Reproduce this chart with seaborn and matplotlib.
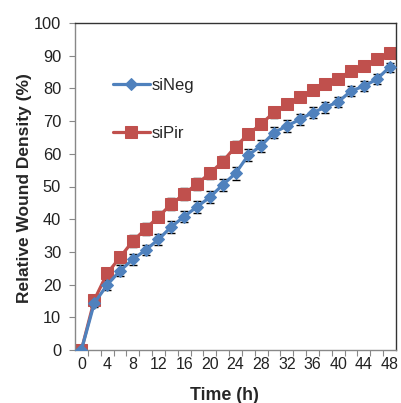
import numpy as np
import pandas as pd
import matplotlib
matplotlib.use("Agg")
import matplotlib.pyplot as plt
import seaborn as sns
from matplotlib.ticker import FixedLocator

time_h = [0, 2, 4, 6, 8, 10, 12, 14, 16, 18, 20, 22, 24, 26, 28, 30, 32, 34, 36, 38, 40, 42, 44, 46, 48]
si_neg = [0, 14.3, 19.9, 24.2, 27.7, 30.6, 33.8, 37.7, 40.8, 43.8, 46.7, 50.5, 54.0, 59.6, 62.5,
          66.5, 68.5, 70.5, 72.6, 74.2, 75.9, 79.2, 80.7, 82.8, 86.5]
si_pir = [0, 15.3, 23.4, 28.3, 33.3, 37.0, 40.8, 44.6, 47.7, 50.8, 54.0, 57.6, 62.2, 66.0, 69.1,
          72.7, 75.1, 77.3, 79.5, 81.3, 82.9, 85.4, 86.9, 88.9, 90.9]
err_neg = [0, 1.2, 1.5, 1.7, 1.6, 1.6, 1.7, 1.8, 1.8, 1.8, 1.8, 1.9, 1.9, 1.8, 1.8,
           1.7, 1.7, 1.7, 1.6, 1.6, 1.6, 1.6, 1.5, 1.5, 1.4]
err_pir = [0, 1.2, 1.6, 1.8, 1.8, 1.8, 1.8, 1.8, 1.8, 1.8, 1.8, 1.7, 1.7, 1.6, 1.6,
           1.6, 1.5, 1.5, 1.5, 1.4, 1.4, 1.4, 1.3, 1.3, 1.2]
series_names = ["siNeg", "siPir"]
x_tick_labels = [str(v) for v in range(0, 49, 4)]
y_ticks = list(range(0, 101, 10))

blue = "#4F81BD"
red = "#C0504D"

sns.set_style("white")
plt.rcParams["font.family"] = ["Liberation Sans", "DejaVu Sans"]

df = pd.DataFrame({
    "time": time_h * 2,
    "value": si_neg + si_pir,
    "group": [series_names[0]] * len(time_h) + [series_names[1]] * len(time_h),
})

fig = plt.figure(figsize=(4.01, 4.03), dpi=100)
ax = fig.add_axes([75 / 401, 1 - 350 / 403, 321 / 401, 327 / 403])

# error bars (drawn beneath markers)
ax.errorbar(time_h, si_neg, yerr=err_neg, fmt="none", ecolor="black", elinewidth=0.8,
            capsize=3.2, capthick=1.0, zorder=1)
ax.errorbar(time_h, si_pir, yerr=err_pir, fmt="none", ecolor="black", elinewidth=0.8,
            capsize=3.2, capthick=1.0, zorder=1)

sns.lineplot(data=df[df.group == "siNeg"], x="time", y="value", ax=ax, color=blue,
             marker="D", markersize=6.5, markeredgecolor=blue, linewidth=2.3,
             label="siNeg", zorder=3)
sns.lineplot(data=df[df.group == "siPir"], x="time", y="value", ax=ax, color=red,
             marker="s", markersize=8.5, markeredgecolor=red, linewidth=2.3,
             label="siPir", zorder=2)

ax.set_xlim(-1, 49)
ax.set_ylim(0, 100)
ax.set_xticks(list(range(0, 49, 4)))
ax.set_xticklabels(x_tick_labels)
ax.xaxis.set_minor_locator(FixedLocator(list(range(1, 48, 2))))
ax.set_yticks(y_ticks)
ax.set_yticklabels([str(v) for v in y_ticks])

ax.tick_params(axis="x", which="major", length=0, pad=5, labelsize=11.5, colors="#222222")
ax.tick_params(axis="x", which="minor", length=4, width=0.8, color="#888888", direction="out")
ax.tick_params(axis="y", which="major", length=4, width=0.8, color="#888888", direction="out",
               pad=6, labelsize=11.8, labelcolor="#222222", left=True)
ax.tick_params(axis="x", which="major", bottom=True)
ax.xaxis.set_tick_params(which="minor", bottom=True)

for side in ["left", "bottom"]:
    ax.spines[side].set_color("#888888")
    ax.spines[side].set_linewidth(1.0)
for side in ["top", "right"]:
    ax.spines[side].set_color("#333333")
    ax.spines[side].set_linewidth(1.0)

ax.set_xlabel("Time (h)", fontsize=12.8, fontweight="bold")
ax.set_ylabel("Relative Wound Density (%)", fontsize=12.5, fontweight="bold")
ax.xaxis.set_label_coords(0.464, -0.112)
ax.yaxis.set_label_coords(-0.133, 0.495)

ax.legend(loc="upper left", bbox_to_anchor=(0.118, 0.832), frameon=False, fontsize=12,
          labelspacing=2.0, handlelength=2.2, handletextpad=0.15, borderpad=0,
          borderaxespad=0)

fig.savefig("out.png", dpi=100)
